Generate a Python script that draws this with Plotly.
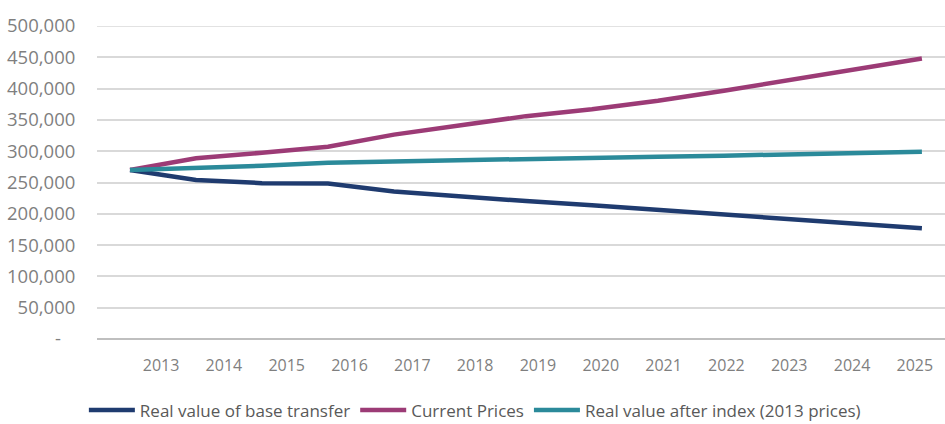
import plotly.graph_objects as go

years = [2013, 2014, 2015, 2016, 2017, 2018, 2019, 2020, 2021, 2022, 2023, 2024, 2025]
year_labels = [str(y) for y in years]
real_base = [270000, 254000, 249000, 248500, 235500, 227300, 220400, 213500, 206000, 199200, 191700, 184200, 176800]
current_prices = [270000, 288600, 297600, 307000, 326500, 342000, 356000, 367000, 380500, 396500, 413500, 430000, 448000]
real_after_index = [270000, 272600, 276800, 281600, 283800, 286000, 288000, 290000, 291300, 292900, 295000, 296600, 299000]
y_ticks = [0, 50000, 100000, 150000, 200000, 250000, 300000, 350000, 400000, 450000, 500000]
y_labels = ["-\u00a0\u00a0\u00a0"] + [f"{v:,}" for v in y_ticks[1:]]

names = ["Real value of base transfer", "Current Prices", "Real value after index (2013 prices)"]
colors = ["#1F3B6F", "#9C3B76", "#2B8A9A"]
series = [real_base, current_prices, real_after_index]

fig = go.Figure()
for n, c, s in zip(names, colors, series):
    fig.add_trace(go.Scatter(x=years, y=s, name=n, mode="lines",
                             line=dict(color=c, width=4.5), hoverinfo="x+y"))

# invisible trace to drive the category label axis
fig.add_trace(go.Scatter(x=year_labels, y=[None] * len(years), xaxis="x2",
                         showlegend=False, hoverinfo="skip"))

font_family = "Open Sans"
fig.update_layout(
    width=945, height=424,
    margin=dict(l=97, r=0, t=26, b=85),
    paper_bgcolor="white", plot_bgcolor="white",
    font=dict(family=font_family, color="#7F7F7F", size=16),
    xaxis=dict(range=[2012.5, 2025.35], showgrid=False, showticklabels=False,
               zeroline=False, showline=False, ticks="", automargin=False),
    xaxis2=dict(type="category", overlaying="x", anchor="y",
                range=[-1.02, 12.48], showgrid=False, zeroline=False, showline=False,
                ticks="outside", ticklen=12, tickcolor="rgba(0,0,0,0)",
                tickfont=dict(size=16, color="#7F7F7F"), side="bottom", automargin=False),
    yaxis=dict(range=[0, 500000], tickvals=y_ticks, ticktext=y_labels,
               showgrid=True, gridcolor="#D9D9D9", gridwidth=1.5,
               zeroline=True, zerolinecolor="#BFBFBF", zerolinewidth=2,
               ticks="outside", ticklen=17, tickcolor="rgba(0,0,0,0)",
               tickfont=dict(size=18.5, color="#7F7F7F"), automargin=False),
    legend=dict(orientation="h", x=0.4456, xanchor="center",
                yref="container", y=0.032, yanchor="middle",
                font=dict(size=17, color="#595959"), itemwidth=46,
                bgcolor="rgba(0,0,0,0)"),
    showlegend=True,
)
fig.add_shape(type="line", xref="paper", yref="y", x0=0, x1=1, y0=500000, y1=500000,
              line=dict(color="#D9D9D9", width=1.5), layer="below")

page_css = ("document.documentElement.style.margin='0';"
            "document.body.style.margin='0';"
            "document.documentElement.style.overflow='hidden';"
            "document.body.style.overflow='hidden';")
fig.write_html("out.html", post_script=page_css, config={"displayModeBar": False})
